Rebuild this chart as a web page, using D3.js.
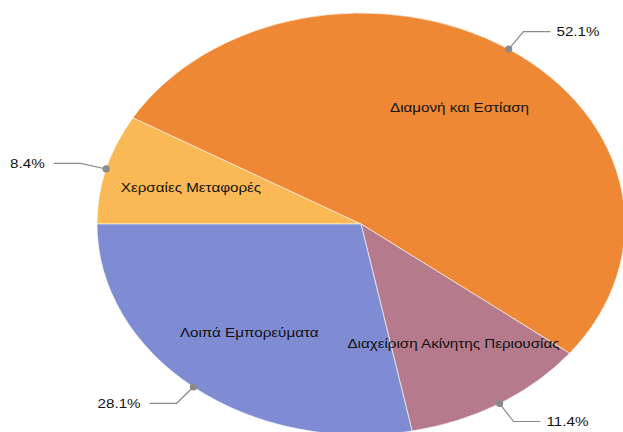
<!DOCTYPE html>
<html>
<head>
<meta charset="utf-8">
<script src="https://cdn.jsdelivr.net/npm/d3@7/dist/d3.min.js"></script>
<style>
  html, body { margin: 0; padding: 0; background: #fff; }
  svg { display: block; }
</style>
</head>
<body>
<svg id="chart" width="623" height="432"></svg>
<script>
const categories = ["Χερσαίες Μεταφορές", "Διαμονή και Εστίαση", "Διαχείριση Ακίνητης Περιουσίας", "Λοιπά Εμπορεύματα"];
const values = [8.4, 52.1, 11.4, 28.1];
const pctLabels = ["8.4%", "52.1%", "11.4%", "28.1%"];
const colors = ["#FBB955", "#EE8835", "#B57A8B", "#7F8CD4"];

const W = 623, H = 432;
const cx = 361, cy = 224, rx = 264, ry = 211;
const textStretch = 1.17;

const svg = d3.select("#chart");

const pie = d3.pie().sort(null).value(d => d).startAngle(-Math.PI / 2).endAngle(1.5 * Math.PI);
const arcs = pie(values);
const arc = d3.arc().innerRadius(0).outerRadius(ry);

const g = svg.append("g").attr("transform", `translate(${cx},${cy}) scale(${rx / ry},1)`);
g.selectAll("path").data(arcs).join("path")
  .attr("d", arc)
  .attr("fill", (d, i) => colors[i])
  .attr("stroke", "#fff")
  .attr("stroke-width", 0.6)
  .attr("vector-effect", "non-scaling-stroke");

function pt(a, f) {
  return [cx + rx * f * Math.sin(a), cy - ry * f * Math.cos(a)];
}

function stretchedText(x, y, txt, anchor) {
  svg.append("text")
    .attr("transform", `translate(${x},${y}) scale(${textStretch},1)`)
    .attr("text-anchor", anchor)
    .attr("dominant-baseline", "central")
    .attr("font-family", "'Liberation Sans', Arial, sans-serif")
    .attr("font-size", 13)
    .attr("fill", "#111")
    .text(txt);
}

// inside labels
arcs.forEach((d, i) => {
  const m = (d.startAngle + d.endAngle) / 2;
  const [x, y] = pt(m, 0.667);
  stretchedText(x, y, categories[i], "middle");
});

// outer leader labels
arcs.forEach((d, i) => {
  const m = (d.startAngle + d.endAngle) / 2;
  const p0 = pt(m, 1.0);
  const p1 = pt(m, 1.1);
  const dir = Math.sin(m) >= 0 ? 1 : -1;
  const p2 = [p1[0] + dir * 27, p1[1]];
  svg.append("polyline")
    .attr("points", [p0, p1, p2].map(p => p.join(",")).join(" "))
    .attr("fill", "none")
    .attr("stroke", "#8a8a8a")
    .attr("stroke-width", 1.2);
  svg.append("circle")
    .attr("cx", p0[0]).attr("cy", p0[1]).attr("r", 3.6)
    .attr("fill", "#8a8a8a");
  stretchedText(p2[0] + dir * (dir > 0 ? 6 : 9), p2[1], pctLabels[i], dir > 0 ? "start" : "end");
});
</script>
</body>
</html>
